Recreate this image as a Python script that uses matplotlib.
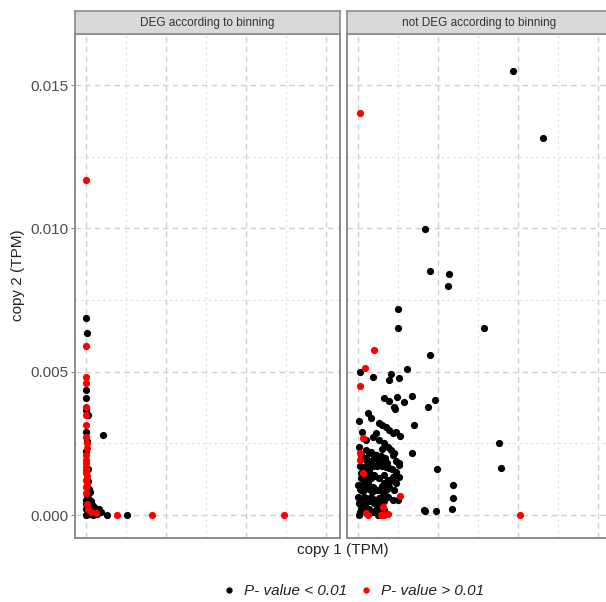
import matplotlib.pyplot as plt
from matplotlib.lines import Line2D

plt.rcParams['font.family'] = ['Liberation Sans', 'DejaVu Sans']

# Paneles (facetas)
paneles = ['DEG according to binning', 'not DEG according to binning']

# DEG: P-value < 0.01 (negro)
deg_sig_x = [0, 0.00006, 0, 0, 0, 0, 0, 0.00025, 0, 0.00106, 0.0013, 0.00256,
             0.00006, 0, 0.0001, 0.0002, 0.0003, 0.0001, 0.0004, 0.0005, 0.0006,
             0.0002, 0.0003, 0.0001, 0.0007, 0.0008, 0.0004, 0, 0, 0.00005,
             0.0002, 0.0001, 0.0001, 0.0003, 0.0005, 0.00015, 0.0009, 0.0001,
             0.00035, 0.00055, 0.0002, 0.00045]
deg_sig_y = [0.00687, 0.00635, 0.00436, 0.00408, 0.00366, 0.0029, 0.00223, 0.0008,
             0.00052, 0.00279, 0, 0, 0.0026, 0, 0.0001, 0.00005, 0.0002, 0.0003,
             0.0001, 0.0002, 0.0001, 0.0004, 0.0005, 0.0006, 0.00005, 0.0002,
             0.0003, 0.0002, 0.0004, 0.0007, 0.0009, 0.0012, 0.0016, 0.0001,
             0.00005, 0.00003, 0.0001, 0.0035, 0.00035, 0.00025, 0.00015, 0.0]

# DEG: P-value > 0.01 (rojo)
deg_ns_x = [0, 0, 0, 0, 0, 0, 0, 0, 0.00006, 0, 0, 0, 0, 0, 0, 0, 0, 0,
            0.00006, 0.00006, 0.00063, 0.0019, 0.0041, 0.0124, 0.0003, 0.00005,
            0.0001, 0.00003]
deg_ns_y = [0.01169, 0.0059, 0.00481, 0.0046, 0.00377, 0.00349, 0.00314, 0.00272,
            0.00234, 0.00192, 0.00181, 0.00157, 0.00147, 0.00122, 0.00098, 0.00077,
            0.00209, 0.00167, 0.00136, 0.00108, 0.00007, 0, 0, 0, 0.0001, 0.0004,
            0.0002, 0.0025]

# not DEG: P-value < 0.01 (negro)
ndeg_sig_x = [0.00969, 0.01156, 0.00419, 0.0045, 0.00569, 0.00563, 0.0025, 0.0025,
              0.00788, 0.0045, 0.00013, 0.00094, 0.00206, 0.00194, 0.00256, 0.00306,
              0.00163, 0.00194, 0.00244, 0.00288, 0.00338, 0.00225, 0.00231, 0.00438,
              0.00481, 0.0035, 0.00006, 0.00063, 0.00263, 0.00881, 0.00894, 0.00338,
              0.00494, 0.00256, 0.00594, 0.00594, 0.00588, 0.00419, 0.00488,
              0.00081, 0.00131, 0.0015, 0.00175, 0.00194, 0.00219, 0.00238, 0.00113,
              0.00094, 0.00131, 0.00163, 0.00188, 0.00206, 0.00225, 0.0005, 0.00069,
              0.001, 0.00125, 0.00156, 0.00175, 0.00194, 0.00256, 0.00238, 0.00219,
              0.00188, 0.0005, 0.00031, 0.00069, 0.001, 0.00131, 0.00163, 0.00194,
              0.00225, 0.00038, 0.00063, 0.00094, 0.00125, 0.00156, 0.00188, 0.00219,
              0.00019, 0.00038, 0.00069, 0.001, 0.00131, 0.00163, 0.00006, 0.00031,
              0.00063, 0.00094, 0.00125, 0.00144, 0.00006, 0.0025, 0.00238, 0.00256,
              0, 0, 0.00019, 0.00006, 0.0005, 0.00025, 0.00413, 0.00044, 0.00075,
              0.00088, 0.0011, 0.0014, 0.0017, 0.0003, 0.0006, 0.0009, 0.0012,
              0.0002, 0.0004, 0.0008, 0.0011, 0.0015, 0.0001, 0.0003, 0.0007,
              # relleno del núcleo denso
              0.0001, 0.0003, 0.0005, 0.0007, 0.0009, 0.0011, 0.0013, 0.0015,
              0.0001, 0.0003, 0.0005, 0.0007, 0.0009, 0.0011, 0.0013, 0.0016,
              0.0001, 0.0003, 0.0005, 0.0007, 0.0009, 0.0012, 0.0015, 0.0018,
              0.0002, 0.0004, 0.0006, 0.0008, 0.001, 0.0013, 0.0016, 0.002,
              0.0001, 0.0004, 0.0006, 0.0009, 0.0012, 0.0015, 0.0018, 0.0021,
              0.0002, 0.0005, 0.0008, 0.0011, 0.0014, 0.0017, 0.0022, 0.0024]
ndeg_sig_y = [0.01549, 0.01315, 0.00998, 0.00851, 0.0084, 0.00799, 0.00719, 0.00652,
              0.00652, 0.00558, 0.00499, 0.00481, 0.00492, 0.00471, 0.00478, 0.00509,
              0.00408, 0.00398, 0.00412, 0.00394, 0.00415, 0.00377, 0.0037, 0.00377,
              0.00401, 0.00314, 0.00328, 0.00356, 0.00276, 0.00251, 0.00164, 0.00216,
              0.0016, 0.00174, 0.00105, 0.00059, 0.00021, 0.00014, 0.00014,
              0.00338, 0.00321, 0.00314, 0.00307, 0.00297, 0.00286, 0.0029, 0.00286,
              0.00272, 0.00262, 0.00251, 0.00237, 0.00227, 0.00216, 0.00227, 0.00216,
              0.00202, 0.00192, 0.00181, 0.00167, 0.00164, 0.00181, 0.0015, 0.00133,
              0.00122, 0.00192, 0.00167, 0.00157, 0.0014, 0.00129, 0.00112, 0.00098,
              0.00087, 0.00129, 0.00112, 0.00098, 0.00087, 0.00077, 0.00063, 0.00052,
              0.00087, 0.00063, 0.00052, 0.00042, 0.00028, 0.00017, 0.00042, 0.00017,
              0.00007, 0.0001, 0, 0.00024, 0, 0.00052, 0.00112, 0.00133,
              0.00063, 0.00105, 0.00147, 0.00237, 0.00262, 0.0029, 0.00017, 0.0003,
              0.0006, 0.0008, 0.0004, 0.0005, 0.0007, 0.0009, 0.0011, 0.0014, 0.0017,
              0.0002, 0.0013, 0.0019, 0.0021, 0.0023, 0.0004, 0.0011, 0.00008,
              0.0001, 0.00015, 0.0001, 0.0002, 0.00012, 0.00018, 0.0001, 0.00014,
              0.0005, 0.00045, 0.0006, 0.0005, 0.00055, 0.00048, 0.0006, 0.0005,
              0.0009, 0.00085, 0.001, 0.0009, 0.00095, 0.00088, 0.001, 0.0009,
              0.0013, 0.00125, 0.0014, 0.0013, 0.00135, 0.0013, 0.0014, 0.0012,
              0.0017, 0.0016, 0.0018, 0.0017, 0.00175, 0.0017, 0.0018, 0.0016,
              0.0021, 0.002, 0.0022, 0.0021, 0.00205, 0.002, 0.0021, 0.0019]

# not DEG: P-value > 0.01 (rojo)
ndeg_ns_x = [0.00013, 0.001, 0.00044, 0.00013, 0.00031, 0.00013, 0.00013, 0.00031,
             0.00263, 0.00063, 0.00156, 0.00144, 0.00163, 0.00188, 0.01013, 0.0005]
ndeg_ns_y = [0.01402, 0.00576, 0.00513, 0.0045, 0.00269, 0.00216, 0.00192, 0.00147,
             0.00066, 0, 0.00028, 0, 0, 0.00003, 0, 0.00007]

datos = [
    (deg_sig_x, deg_sig_y, deg_ns_x, deg_ns_y),
    (ndeg_sig_x, ndeg_sig_y, ndeg_ns_x, ndeg_ns_y),
]

fig = plt.figure(figsize=(6.06, 6.02), dpi=100)

izq = [0.1238, 0.5726]
ancho = 0.4373
abajo = 0.1063
alto = 0.8372
borde = '#8c8c8c'

for i, (sx, sy, nx, ny) in enumerate(datos):
    ax = fig.add_axes([izq[i], abajo, ancho, alto])
    ax.scatter(sx, sy, s=27, c='black', linewidths=0, zorder=3)
    ax.scatter(nx, ny, s=27, c='red', linewidths=0, zorder=3)
    ax.set_xlim(-0.0007, 0.0159)
    ax.set_ylim(-0.0008, 0.01678)
    ax.set_xticks([0, 0.005, 0.01, 0.015])
    ax.set_xticks([0.0025, 0.0075, 0.0125], minor=True)
    ax.set_yticks([0, 0.005, 0.01, 0.015])
    ax.set_yticks([0.0025, 0.0075, 0.0125], minor=True)
    ax.grid(True, which='major', color='#cfcfcf', linestyle=(0, (4, 3)), linewidth=1.0)
    ax.grid(True, which='minor', color='#dcdcdc', linestyle=(0, (2, 3)), linewidth=0.8)
    ax.set_axisbelow(True)
    ax.tick_params(axis='x', which='both', length=0, labelbottom=False)
    ax.tick_params(axis='y', which='minor', length=0)
    if i == 0:
        ax.set_yticklabels(['0.000', '0.005', '0.010', '0.015'])
        ax.tick_params(axis='y', which='major', length=3, color=borde,
                       labelsize=11, labelcolor='#4d4d4d', pad=2)
    else:
        ax.tick_params(axis='y', which='major', length=0, labelleft=False)
    for sp in ax.spines.values():
        sp.set_color(borde)
        sp.set_linewidth(1.4)

    # tira de la faceta
    st = fig.add_axes([izq[i], 0.9435, ancho, 0.0382])
    st.set_facecolor('#d9d9d9')
    st.set_xticks([])
    st.set_yticks([])
    for sp in st.spines.values():
        sp.set_color(borde)
        sp.set_linewidth(1.2)
    st.text(0.5, 0.5, paneles[i], transform=st.transAxes, ha='center', va='center',
            fontsize=8.5, color='#333333')

fig.text(0.566, 0.086, 'copy 1 (TPM)', ha='center', va='center', fontsize=11, color='#222222')
fig.text(0.03, 0.543, 'copy 2 (TPM)', ha='center', va='center', rotation=90,
         fontsize=11, color='#222222')

handles = [
    Line2D([], [], marker='o', linestyle='none', color='black', markersize=3.5),
    Line2D([], [], marker='o', linestyle='none', color='red', markersize=3.5),
]
fig.legend(handles, ['P- value < 0.01', 'P- value > 0.01'], loc='center',
           bbox_to_anchor=(0.578, 0.018), ncol=2, frameon=False,
           prop={'style': 'italic', 'size': 11}, handletextpad=0.2, columnspacing=0.4,
           handlelength=1.6, labelcolor='#222222')

fig.savefig('out.png', dpi=100)
